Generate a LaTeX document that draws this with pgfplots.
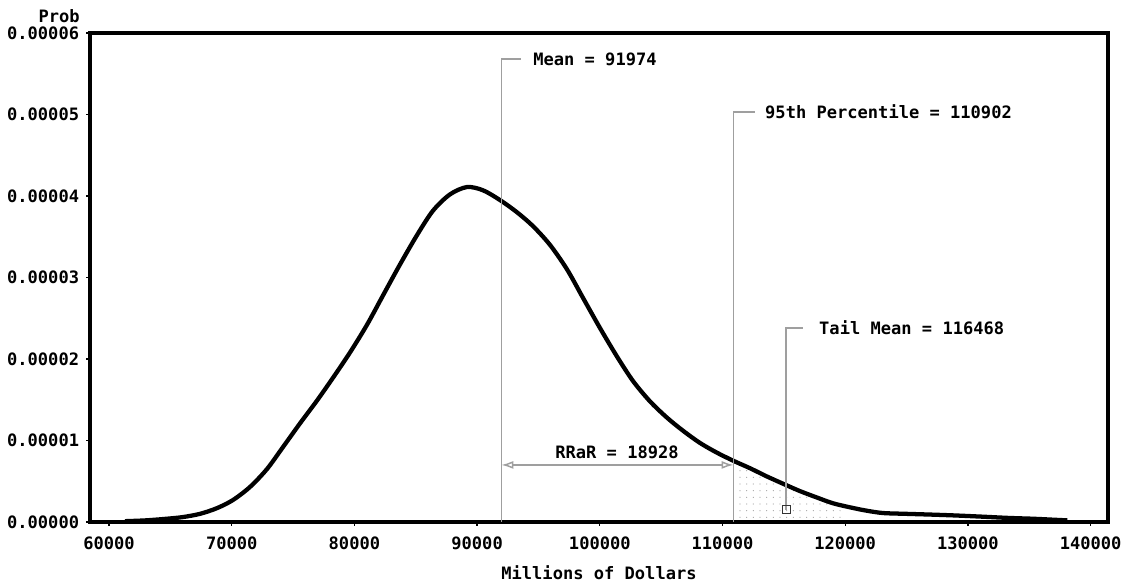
\documentclass[border=0pt]{standalone}
\usepackage{fontspec}
\setmainfont{DejaVu Sans Mono}
\usepackage{pgfplots}
\pgfplotsset{compat=1.18}
\usetikzlibrary{arrows.meta,patterns.meta}
\pgfplotstableread{
x y
61300 0.01e-5
63000 0.02e-5
64700 0.04e-5
66000 0.06e-5
67416 0.10e-5
68800 0.17e-5
70106 0.27e-5
71491 0.43e-5
72877 0.65e-5
74181 0.92e-5
75566 1.21e-5
76952 1.49e-5
78256 1.77e-5
79641 2.08e-5
81027 2.42e-5
82331 2.78e-5
83716 3.16e-5
85102 3.52e-5
86406 3.82e-5
87791 4.02e-5
89177 4.11e-5
90481 4.07e-5
91866 3.95e-5
93252 3.80e-5
94556 3.63e-5
95941 3.40e-5
97327 3.10e-5
98631 2.75e-5
100016 2.38e-5
101402 2.03e-5
102706 1.73e-5
104091 1.48e-5
105477 1.28e-5
106781 1.12e-5
108166 0.97e-5
109552 0.85e-5
110902 0.75e-5
112241 0.66e-5
113600 0.56e-5
114930 0.47e-5
116300 0.38e-5
117701 0.30e-5
119000 0.23e-5
120391 0.18e-5
121700 0.14e-5
123081 0.11e-5
125000 0.10e-5
127156 0.09e-5
129000 0.08e-5
131231 0.065e-5
133300 0.05e-5
135306 0.04e-5
136700 0.03e-5
138100 0.02e-5
}\density
\pgfplotstableread{
x y
110902 0.75e-5
112241 0.66e-5
113600 0.56e-5
114930 0.47e-5
116300 0.38e-5
117701 0.30e-5
119000 0.23e-5
120000 0.195e-5
}\tail
\begin{document}
\begin{tikzpicture}[font=\fontsize{12.8}{15}\selectfont\bfseries]
\useasboundingbox (0,0) rectangle (842.25pt,438pt);
\begin{axis}[
  at={(67.5pt,46.5pt)}, anchor=south west,
  scale only axis, width=763.5pt, height=366.75pt,
  xmin=58450, xmax=141420, ymin=0, ymax=6e-5,
  xtick={60000,70000,80000,90000,100000,110000,120000,130000,140000},
  xticklabels={60000,70000,80000,90000,100000,110000,120000,130000,140000},
  ytick={0,1e-5,2e-5,3e-5,4e-5,5e-5,6e-5},
  yticklabels={0.00000,0.00001,0.00002,0.00003,0.00004,0.00005,0.00006},
  scaled y ticks=false, scaled x ticks=false,
  xtick pos=bottom, ytick pos=left,
  tick align=outside, major tick length=3pt,
  tick style={black, line width=1pt},
  axis line style={line width=2.4pt},
  xticklabel style={anchor=center, yshift=-13pt},
  yticklabel style={anchor=east, inner sep=0pt, xshift=-5pt},
  xlabel={Millions of Dollars},
  xlabel style={at={(axis description cs:0.5,0)}, anchor=center, yshift=-38pt},
  clip=false,
]
\addplot[draw=none, pattern={Dots[distance=5pt, radius=0.45pt]}, pattern color=gray!70] table[x=x,y=y] {\tail} -- (axis cs:120000,0) -- (axis cs:110902,0) -- cycle;
\addplot[black, line width=3.2pt, smooth, tension=0.5] table[x=x,y=y] {\density};
% Mean
\draw[gray!75, line width=1.1pt] (axis cs:91974,0) -- (axis cs:91974,5.68e-5) -- (axis cs:93600,5.68e-5);
\node[anchor=west, inner sep=0pt] at (axis cs:94560,5.68e-5) {Mean = 91974};
% 95th percentile
\draw[gray!75, line width=1.1pt] (axis cs:110902,0) -- (axis cs:110902,5.03e-5) -- (axis cs:112640,5.03e-5);
\node[anchor=west, inner sep=0pt] at (axis cs:113460,5.03e-5) {95th Percentile = 110902};
% Tail mean
\draw[gray!75, line width=1.1pt] (axis cs:115180,0.15e-5) -- (axis cs:115180,2.38e-5) -- (axis cs:116560,2.38e-5);
\node[anchor=west, inner sep=0pt] at (axis cs:117860,2.38e-5) {Tail Mean = 116468};
\addplot[only marks, mark=square, mark size=3pt, mark options={black!80, line width=0.8pt, fill=white}] coordinates {(115180,0.15e-5)};
% RRaR
\draw[gray!75, line width=1.1pt, {Latex[open,length=9pt,width=6pt]}-{Latex[open,length=9pt,width=6pt]}] (axis cs:91974,0.70e-5) -- (axis cs:110902,0.70e-5);
\node[anchor=center, inner sep=0pt] at (axis cs:101402,0.85e-5) {RRaR = 18928};
% Prob label
\node[anchor=base east, inner sep=0pt, xshift=-7.5pt, yshift=8pt] at (rel axis cs:0,1) {Prob};
\end{axis}
\end{tikzpicture}
\end{document}
